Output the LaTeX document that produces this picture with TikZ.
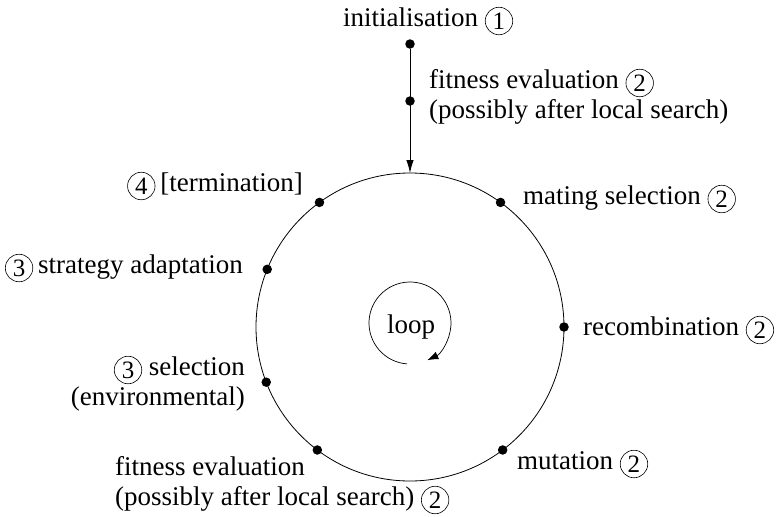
\documentclass[tikz,border=0pt]{standalone}
\usepackage{fontspec}
\setmainfont{Liberation Serif}
\usetikzlibrary{arrows.meta}

% circled step number, its centre a little above the text baseline
\newcommand\cnum[1]{\tikz[baseline={([yshift=-5pt]cn.center)}]\node[circnum] (cn) {#1};}

\tikzset{
  circnum/.style={circle, draw, line width=0.6pt, minimum size=27.5pt,
    inner sep=0pt, font=\fontsize{25}{25}\selectfont},
  dot/.style={circle, fill=black, inner sep=0pt, minimum size=9.5pt},
  lbl/.style={inner sep=0pt},
  ring/.style={line width=0.8pt},
  flow/.style={line width=0.9pt, -{Latex[length=13pt,width=7.5pt]}},
}

\begin{document}
\begin{tikzpicture}[x=1pt, y=-1pt, font=\fontsize{27}{30}\selectfont]
\useasboundingbox (0,0) rectangle (780,517);

% the generation cycle
\coordinate (C) at (410,327);
\draw[ring] (C) circle[radius=154];
\coordinate (ctop) at (410,173);

% steps placed on the cycle
\path (C) ++(-54:154) node[dot] (dmate) {};
\path (C) ++(0:154)   node[dot] (drec) {};
\path (C) ++(53:154)  node[dot] (dmut) {};
\path (C) ++(127:154) node[dot] (dfit2) {};
\path (C) ++(159:154) node[dot] (dsel) {};
\path (C) ++(202:154) node[dot] (dstrat) {};
\path (C) ++(234:154) node[dot] (dterm) {};

% entry into the cycle
\node[dot] (dinit) at (410,44) {};
\node[dot] (dfit1) at (410,101) {};
\draw[flow] (dinit) -- (ctop);

% labels (multi-line nodes are anchored on their last baseline)
\node[lbl, anchor=base west] (linit) at (343,26) {initialisation \cnum{1}};
\node[lbl, anchor=base west, align=left] (lfit1) at (429,118)
  {fitness evaluation \cnum{2}\\(possibly after local search)};
\node[lbl, anchor=base west] (lmate) at (523,204) {mating selection \cnum{2}};
\node[lbl, anchor=base west] (lrec) at (583,335) {recombination \cnum{2}};
\node[lbl, anchor=base west] (lmut) at (517,469) {mutation \cnum{2}};
\node[lbl, anchor=base west, align=left] (lfit2) at (115,505)
  {fitness evaluation\\(possibly after local search) \cnum{2}};
\node[lbl, anchor=base east, align=right] (lsel) at (245,405)
  {\cnum{3} selection\\(environmental)};
\node[lbl, anchor=base east] (lstrat) at (243,273) {\cnum{3}\hspace{5pt}strategy adaptation};
\node[lbl, anchor=base east] (lterm) at (303,191) {\cnum{4}\hspace{5pt}[termination]};

% inner loop marker
\coordinate (lc) at (410,323);
\node[lbl, anchor=base] (loop) at (411,333) {loop};
\draw[line width=0.7pt, -{Latex[length=11pt,width=8pt]}]
  (lc) ++(94:41) arc[start angle=94, end angle=425, radius=41];
\end{tikzpicture}
\end{document}
